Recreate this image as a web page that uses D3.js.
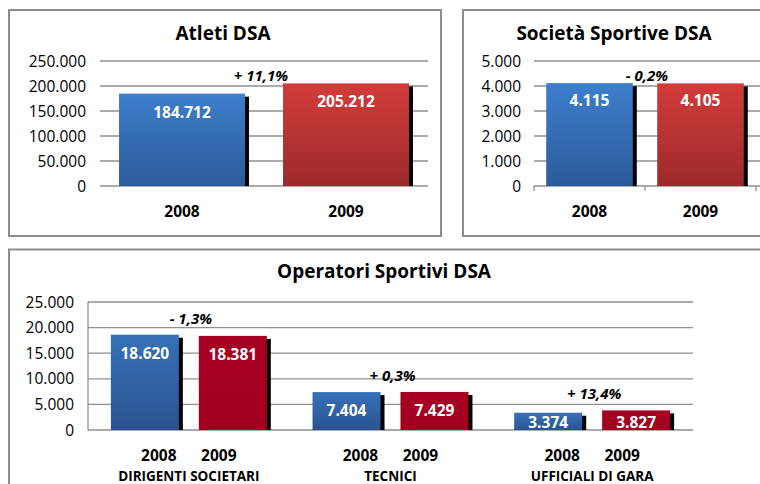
<!DOCTYPE html>
<html>
<head>
<meta charset="utf-8">
<script src="https://cdn.jsdelivr.net/npm/d3@7"></script>
<style>
body { margin: 0; background: #fff; }
text { font-family: "Open Sans", sans-serif; fill: #000; }
</style>
</head>
<body>
<div id="main_div"></div>
<script>
// data
var years = ["2008", "2009"];
var atleti = [184712, 205212];
var atletiChange = "+ 11,1%";
var atletiTicks = [0, 50000, 100000, 150000, 200000, 250000];

var societa = [4115, 4105];
var societaChange = "- 0,2%";
var societaTicks = [0, 1000, 2000, 3000, 4000, 5000];

var opCategories = ["DIRIGENTI SOCIETARI", "TECNICI", "UFFICIALI DI GARA"];
var op2008 = [18620, 7404, 3374];
var op2009 = [18381, 7429, 3827];
var opChanges = ["- 1,3%", "+ 0,3%", "+ 13,4%"];
var opTicks = [0, 5000, 10000, 15000, 20000, 25000];

var it = d3.formatLocale({decimal: ",", thousands: ".", grouping: [3], currency: ["", " €"]});
var fmt = it.format(",d");

var svg = d3.select("#main_div").append("svg").attr("width", 760).attr("height", 484);

var defs = svg.append("defs");
function grad(id, c1, c2) {
    var g = defs.append("linearGradient").attr("id", id).attr("x1", 0).attr("y1", 0).attr("x2", 0).attr("y2", 1);
    g.append("stop").attr("offset", "0%").attr("stop-color", c1);
    g.append("stop").attr("offset", "100%").attr("stop-color", c2);
}
grad("blue1", "#3d7ecd", "#2c5b9a");
grad("red1", "#d23c3b", "#9c2a2a");
grad("blue3", "#3771b8", "#2a5390");
grad("red3", "#a60022", "#a20020");

// panel frames
var frame = "#8c8c8c";
svg.append("rect").attr("x", 9).attr("y", 10).attr("width", 432).attr("height", 226)
    .attr("fill", "none").attr("stroke", frame).attr("stroke-width", 2);
svg.append("rect").attr("x", 463).attr("y", 10).attr("width", 320).attr("height", 226)
    .attr("fill", "none").attr("stroke", frame).attr("stroke-width", 2);
svg.append("rect").attr("x", 9).attr("y", 249.5).attr("width", 780).attr("height", 260)
    .attr("fill", "none").attr("stroke", frame).attr("stroke-width", 2);

function gridlines(g, y, ticks, x0, x1, labelX) {
    g.selectAll("line.grid").data(ticks).enter().append("line")
        .attr("class", "grid")
        .attr("x1", x0).attr("x2", x1)
        .attr("y1", function(d) { return y(d); }).attr("y2", function(d) { return y(d); })
        .attr("stroke", "#8f8f8f").attr("stroke-width", 1.3);
    g.selectAll("text.tick").data(ticks).enter().append("text")
        .attr("class", "tick")
        .attr("x", labelX)
        .attr("y", function(d) { return y(d) + 5.5; })
        .attr("text-anchor", "end")
        .style("font-size", "15.5px")
        .text(function(d) { return fmt(d); });
}

function bars(g, data, x, y, fills, labelOffset) {
    var y0 = y(0);
    var en = g.selectAll("g.bar").data(data).enter().append("g").attr("class", "bar");
    en.append("rect")
        .attr("x", function(d) { return x(d.key) + 4; })
        .attr("y", function(d) { return y(d.value) + 3; })
        .attr("width", x.bandwidth())
        .attr("height", function(d) { return y0 - y(d.value) - 3; })
        .attr("fill", "#000");
    en.append("rect")
        .attr("x", function(d) { return x(d.key); })
        .attr("y", function(d) { return y(d.value); })
        .attr("width", x.bandwidth())
        .attr("height", function(d) { return y0 - y(d.value); })
        .attr("fill", function(d, i) { return fills[i]; });
    en.append("text")
        .attr("x", function(d) { return x(d.key) + x.bandwidth() / 2; })
        .attr("y", function(d) { return Math.min(y(d.value) + labelOffset, y0 - 2.5); })
        .attr("text-anchor", "middle")
        .style("font-size", "15.5px").style("font-weight", "bold").style("fill", "#fff")
        .text(function(d) { return fmt(d.value); });
}

// ---- Atleti DSA
var x1s = d3.scaleBand().domain(years).range([100, 428]).paddingInner(0.232).paddingOuter(0.116);
var y1s = d3.scaleLinear().domain([0, 250000]).range([186, 61]);
var p1 = svg.append("g");
p1.append("text").attr("x", 223).attr("y", 40).attr("text-anchor", "middle")
    .style("font-size", "19px").style("font-weight", "bold").text("Atleti DSA");
gridlines(p1, y1s, atletiTicks, 100, 428, 86);
bars(p1, years.map(function(k, i) { return {key: k, value: atleti[i]}; }), x1s, y1s, ["url(#blue1)", "url(#red1)"], 24);
p1.selectAll("text.year").data(years).enter().append("text").attr("class", "year")
    .attr("x", function(d) { return x1s(d) + x1s.bandwidth() / 2; }).attr("y", 217)
    .attr("text-anchor", "middle").style("font-size", "15.5px").style("font-weight", "bold")
    .text(function(d) { return d; });
p1.append("text").attr("x", 261).attr("y", y1s(d3.max(atleti)) - 2.5).attr("text-anchor", "middle")
    .style("font-size", "15px").style("font-weight", "bold").style("font-style", "italic")
    .text(atletiChange);

// ---- Società Sportive DSA
var x2s = d3.scaleBand().domain(years).range([534, 756]).paddingInner(0.22).paddingOuter(0.11);
var y2s = d3.scaleLinear().domain([0, 5000]).range([186, 61]);
var p2 = svg.append("g");
p2.append("text").attr("x", 614).attr("y", 40).attr("text-anchor", "middle")
    .style("font-size", "19px").style("font-weight", "bold").text("Società Sportive DSA");
gridlines(p2, y2s, societaTicks, 534, 760, 521);
p2.selectAll("line.xt").data([534, 645, 756]).enter().append("line").attr("class", "xt")
    .attr("x1", function(d) { return d; }).attr("x2", function(d) { return d; })
    .attr("y1", 186).attr("y2", 191).attr("stroke", "#8f8f8f").attr("stroke-width", 1.3);
bars(p2, years.map(function(k, i) { return {key: k, value: societa[i]}; }), x2s, y2s, ["url(#blue1)", "url(#red1)"], 23);
p2.selectAll("text.year").data(years).enter().append("text").attr("class", "year")
    .attr("x", function(d) { return x2s(d) + x2s.bandwidth() / 2; }).attr("y", 217)
    .attr("text-anchor", "middle").style("font-size", "15.5px").style("font-weight", "bold")
    .text(function(d) { return d; });
p2.append("text").attr("x", 647).attr("y", y2s(d3.max(societa)) - 2.5).attr("text-anchor", "middle")
    .style("font-size", "15px").style("font-weight", "bold").style("font-style", "italic")
    .text(societaChange);

// ---- Operatori Sportivi DSA
var x3s = d3.scaleBand().domain(opCategories).range([88, 693]);
var x3in = d3.scaleBand().domain(years).range([0, x3s.bandwidth()]).paddingInner(0.227).paddingOuter(0.26);
var y3s = d3.scaleLinear().domain([0, 25000]).range([430, 302]);
var p3 = svg.append("g");
p3.append("text").attr("x", 384).attr("y", 278).attr("text-anchor", "middle")
    .style("font-size", "19px").style("font-weight", "bold").text("Operatori Sportivi DSA");
gridlines(p3, y3s, opTicks, 88, 693, 74);
p3.append("line").attr("x1", 88).attr("x2", 88).attr("y1", y3s(25000)).attr("y2", y3s(0))
    .attr("stroke", "#8f8f8f").attr("stroke-width", 1.3);

var groups = p3.selectAll("g.grp").data(opCategories).enter().append("g").attr("class", "grp")
    .attr("transform", function(d) { return "translate(" + x3s(d) + ",0)"; });
groups.each(function(c, i) {
    var g = d3.select(this);
    bars(g, [{key: "2008", value: op2008[i]}, {key: "2009", value: op2009[i]}], x3in, y3s, ["url(#blue3)", "url(#red3)"], 24);
    var mid = x3s.bandwidth() / 2;
    g.selectAll("text.year").data(years).enter().append("text").attr("class", "year")
        .attr("x", function(d, j) { return mid + (j === 0 ? -30 : 30); }).attr("y", 461)
        .attr("text-anchor", "middle").style("font-size", "15.5px").style("font-weight", "bold")
        .text(function(d) { return d; });
    g.append("text").attr("x", mid).attr("y", 480.5).attr("text-anchor", "middle")
        .style("font-size", "13.5px").style("font-weight", "bold").text(c);
    g.append("text").attr("x", mid + 2).attr("y", y3s(Math.max(op2008[i], op2009[i])) - 11)
        .attr("text-anchor", "middle")
        .style("font-size", "15px").style("font-weight", "bold").style("font-style", "italic")
        .text(opChanges[i]);
});
</script>
</body>
</html>
